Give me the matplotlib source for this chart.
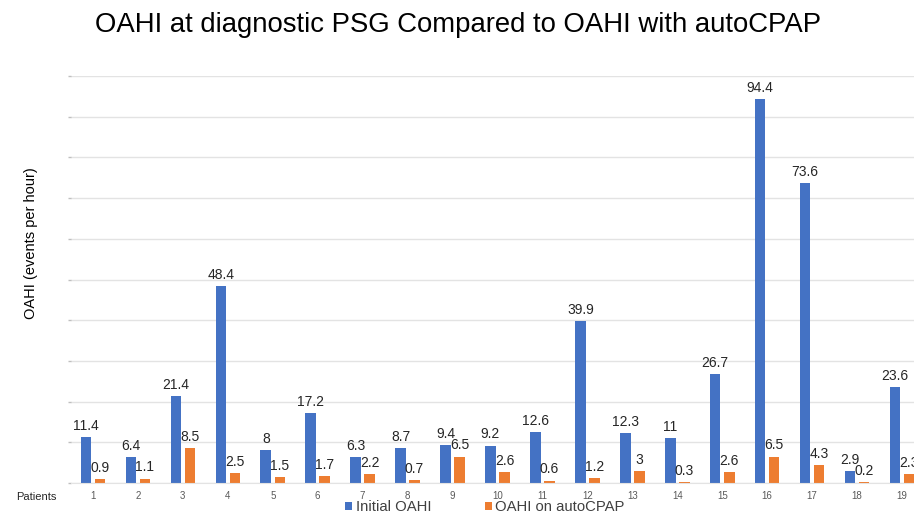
import matplotlib
matplotlib.use("Agg")
import matplotlib.pyplot as plt
import numpy as np

plt.rcParams["font.family"] = ["Liberation Sans", "DejaVu Sans"]

# Data
patients = [str(i) for i in range(1, 20)]
initial_oahi = [11.4, 6.4, 21.4, 48.4, 8, 17.2, 6.3, 8.7, 9.4, 9.2,
                12.6, 39.9, 12.3, 11, 26.7, 94.4, 73.6, 2.9, 23.6]
autocpap_oahi = [0.9, 1.1, 8.5, 2.5, 1.5, 1.7, 2.2, 0.7, 6.5, 2.6,
                 0.6, 1.2, 3, 0.3, 2.6, 6.5, 4.3, 0.2, 2.3]
y_ticks = list(range(0, 101, 10))

blue = "#4472C4"
orange = "#ED7D31"

fig = plt.figure(figsize=(9.14, 5.14), dpi=100)
# axes runs a little past the right edge, as in the reference
ax = fig.add_axes([70.5 / 914, 31 / 514, 854 / 914, 407 / 514])

x = np.arange(len(patients))
w = 0.234
off = 0.156
b1 = ax.bar(x - off, initial_oahi, w, color=blue, label="Initial OAHI")
b2 = ax.bar(x + off, autocpap_oahi, w, color=orange, label="OAHI on autoCPAP")

for bars, vals in ((b1, initial_oahi), (b2, autocpap_oahi)):
    for r, v in zip(bars, vals):
        ax.text(r.get_x() + r.get_width() / 2, v + 1.0, f"{v:g}",
                ha="center", va="bottom", fontsize=10, color="#262626")

ax.set_xlim(-0.5, len(patients) - 0.5)
ax.set_ylim(0, 100)
ax.set_yticks(y_ticks)
ax.set_yticklabels([])
ax.tick_params(axis="y", length=2, color="#BFBFBF", width=1, pad=1)
ax.set_xticks(x)
ax.set_xticklabels(patients, fontsize=7, color="#595959")
ax.tick_params(axis="x", length=0, pad=6)
ax.grid(axis="y", color="#E3E3E3", linewidth=1)
ax.set_axisbelow(True)
for s in ["top", "right", "left"]:
    ax.spines[s].set_visible(False)
ax.spines["bottom"].set_color("#E3E3E3")

fig.text(458 / 914, 1 - 25 / 514, "OAHI at diagnostic PSG Compared to OAHI with autoCPAP",
         ha="center", va="center", fontsize=19.8, color="#000000")
fig.text(31 / 914, 1 - 243 / 514, "OAHI (events per hour)", rotation=90,
         ha="center", va="center", fontsize=10.5, color="#000000")
fig.text(16 / 914, 1 - 497 / 514, "Patients", ha="left", va="center",
         fontsize=8, color="#262626")

fig.legend(handles=[b1, b2], loc="center", bbox_to_anchor=(485 / 914, 1 - 507 / 514),
           ncol=2, frameon=False, fontsize=10.7, handlelength=0.45, handleheight=0.45,
           columnspacing=3.6, handletextpad=0.25, labelcolor="#404040")

fig.savefig("out.png", dpi=100)
